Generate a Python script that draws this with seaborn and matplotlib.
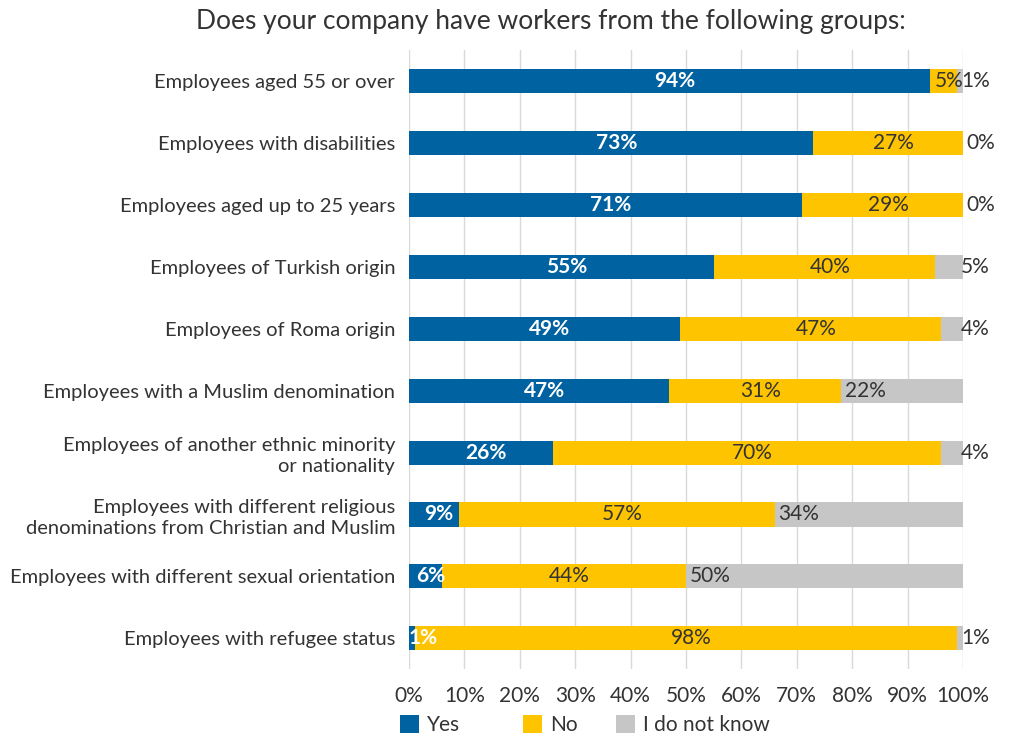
import numpy as np
import pandas as pd
import matplotlib
matplotlib.use("Agg")
import matplotlib.pyplot as plt
import seaborn as sns
from matplotlib.patches import Patch

# Survey answers (% of companies)
groups = [
    "Employees aged 55 or over",
    "Employees with disabilities",
    "Employees aged up to 25 years",
    "Employees of Turkish origin",
    "Employees of Roma origin",
    "Employees with a Muslim denomination",
    "Employees of another ethnic minority\nor nationality",
    "Employees with different religious\ndenominations from Christian and Muslim",
    "Employees with different sexual orientation",
    "Employees with refugee status",
]
yes = [94, 73, 71, 55, 49, 47, 26, 9, 6, 1]
no = [5, 27, 29, 40, 47, 31, 70, 57, 44, 98]
dont_know = [1, 0, 0, 5, 4, 22, 4, 34, 50, 1]
series_names = ["Yes", "No", "I do not know"]
x_ticks = [0, 10, 20, 30, 40, 50, 60, 70, 80, 90, 100]

BLUE = "#0062A0"
YELLOW = "#FFC400"
GREY = "#C6C6C6"
TEXT = "#333333"

sns.set_theme(style="white")
plt.rcParams["font.family"] = ["Lato", "DejaVu Sans"]

df = pd.DataFrame({"group": groups, "yes": yes, "no": no, "dk": dont_know})
df["yes_no"] = df["yes"] + df["no"]
df["total"] = df["yes_no"] + df["dk"]

fig = plt.figure(figsize=(10.09, 7.41), dpi=100)
ax = fig.add_axes([0.4054, 0.097, 0.549, 0.835])

# stacked bars: draw cumulative totals from the back to the front
bw = 0.39
sns.barplot(data=df, y="group", x="total", color=GREY, width=bw, orient="h",
            saturation=1, ax=ax, zorder=2)
sns.barplot(data=df, y="group", x="yes_no", color=YELLOW, width=bw, orient="h",
            saturation=1, ax=ax, zorder=2)
sns.barplot(data=df, y="group", x="yes", color=BLUE, width=bw, orient="h",
            saturation=1, ax=ax, zorder=2)
for p in ax.patches:
    p.set_edgecolor("none")

# value labels
fs_lab = 15
for i, row in df.iterrows():
    ax.text(max(row["yes"] / 2 + 0.9, 2.6), i, f"{row['yes']}%", ha="center",
            va="center", color="white", fontweight="bold", fontsize=fs_lab, zorder=4)
    ax.text(row["yes"] + row["no"] / 2 + 1.0, i, f"{row['no']}%", ha="center",
            va="center", color=TEXT, fontsize=fs_lab, zorder=4)
    start = row["yes_no"]
    x_dk = start + 0.7 if row["dk"] >= 10 else max(start + 0.7, 99.6)
    ax.text(x_dk, i, f"{row['dk']}%", ha="left", va="center",
            color=TEXT, fontsize=fs_lab, zorder=4, clip_on=False)

ax.set_xlim(0, 100)
ax.set_ylim(len(groups) - 0.5, -0.5)
ax.set_xticks(x_ticks)
ax.set_xticklabels([f"{t}%" for t in x_ticks])
ax.xaxis.grid(True, color="#D9D9D9", linewidth=1.0, zorder=0)
ax.set_axisbelow(True)
ax.yaxis.grid(False)
for s in ax.spines.values():
    s.set_visible(False)
ax.set_xlabel("")
ax.set_ylabel("")
ax.tick_params(axis="y", length=0, pad=10, labelsize=14.5, labelcolor=TEXT)
ax.tick_params(axis="x", length=0, pad=12, labelsize=15, labelcolor=TEXT)
for lab in ax.get_yticklabels():
    lab.set_horizontalalignment("right")
    lab.set_multialignment("right")
    lab.set_linespacing(1.3)

fig.suptitle("Does your company have workers from the following groups:",
             x=0.546, y=0.988, fontsize=19, color=TEXT)

# legend entries placed along the bottom edge
legend_x = [0.382, 0.504, 0.596]
for name, color, lx in zip(series_names, (BLUE, YELLOW, GREY), legend_x):
    leg = fig.legend([Patch(facecolor=color, edgecolor="none")], [name],
                     loc="lower left", bbox_to_anchor=(lx, -0.012),
                     frameon=False, fontsize=15, handlelength=0.9,
                     handleheight=0.9, handletextpad=0.4, borderaxespad=0.3,
                     labelcolor=TEXT)

fig.savefig("out.png", dpi=100)
